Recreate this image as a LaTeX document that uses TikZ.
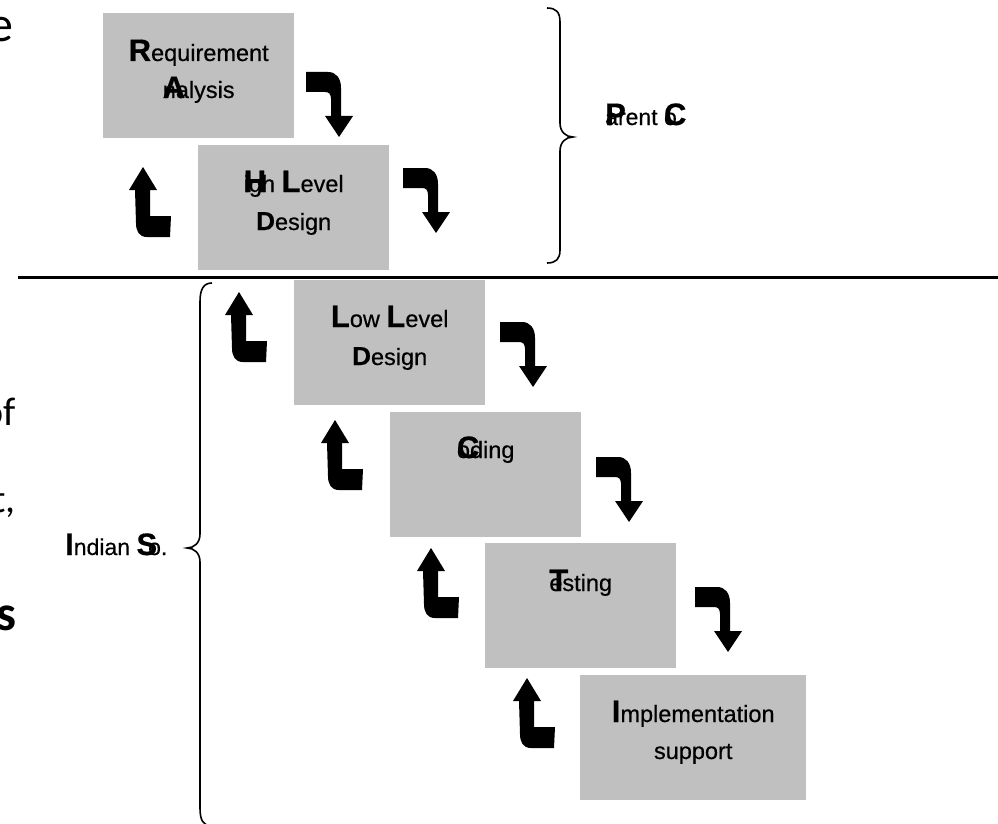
\documentclass[tikz,border=0pt]{standalone}
\usepackage{fontspec}
\setmainfont{Liberation Sans}
\newfontfamily\boxfont[FakeBold=0.5]{Liberation Sans}
\newfontfamily\bodyfont{Carlito}
\definecolor{stagegray}{RGB}{192,192,192}
% enlarged first letter, and one that overprints the letters after it
\newcommand\initial[1]{{\fontsize{31}{31}\selectfont\bfseries #1}}
\newcommand\ovl[1]{\rlap{\initial{#1}}}
\newcommand\capD{{\fontsize{26}{26}\selectfont\bfseries D}}
\begin{document}
\begin{tikzpicture}[x=1pt,y=-1pt,
  stage/.style={fill=stagegray, draw=none, anchor=north west, inner sep=0pt,
                minimum width=191pt, minimum height=125pt},
  caption/.style={anchor=base, inner sep=0pt, font=\boxfont\fontsize{23.5}{23.5}\selectfont},
  sidelabel/.style={anchor=base west, inner sep=0pt, font=\boxfont\fontsize{23}{23}\selectfont},
  fragment/.style={anchor=base east, inner sep=0pt, font=\bodyfont\fontsize{40}{40}\selectfont},
  turn/.style={fill=black, draw=none},
  brace/.style={draw=black, line width=1.6pt},
  turndown/.pic={\path[turn] (0,0) -- (22,0) .. controls (30,0) and (35,6) .. (35,16)
      -- (35,44) -- (47,44) -- (33,65) -- (19,44) -- (25,44) -- (25,27)
      .. controls (25,22) and (23,20) .. (19,20) -- (0,20) -- cycle;},
  turnup/.pic={\path[turn] (0,0) -- (14,23) -- (7,23) -- (7,49) -- (28,49) -- (27,70)
      -- (4,70) .. controls (-4,70) and (-7,64) .. (-7,56) -- (-8,23) -- (-14,23) -- cycle;},
  ]
\useasboundingbox (0,0) rectangle (998,824);

% cut-off words of the neighbouring text column
\node[fragment, font=\bodyfont\fontsize{50}{50}\selectfont] (fr-e) at (14,42) {e};
\node[fragment] (fr-of) at (16,425) {of};
\node[fragment] (fr-t) at (16,512) {t,};
\node[fragment, font=\bodyfont\bfseries\fontsize{50}{50}\selectfont] (fr-s) at (17,630) {s};

% divider between the two parties
\coordinate (div-l) at (18,277);
\coordinate (div-r) at (998,277);
\draw[line width=3pt] (div-l) -- (div-r);

% the six stages
\node[stage] (req) at (103,13) {};
\node[stage] (hld) at (198,145) {};
\node[stage] (lld) at (294,280) {};
\node[stage] (cod) at (390,412) {};
\node[stage] (tst) at (485,543) {};
\node[stage, minimum width=226pt] (imp) at (580,675) {};

\node[caption] (req-1) at ([yshift=-48pt]req.north) {\initial{R}equirement};
\node[caption] (req-2) at ([yshift=-85pt]req.north) {\ovl{A}nalysis};
\node[caption] (hld-1) at ([yshift=-47pt]hld.north) {\ovl{H}igh \initial{L}evel};
\node[caption] (hld-2) at ([yshift=-85pt]hld.north) {\capD esign};
\node[caption] (lld-1) at ([yshift=-47pt]lld.north) {\initial{L}ow \initial{L}evel};
\node[caption] (lld-2) at ([yshift=-85pt]lld.north) {\capD esign};
\node[caption] (cod-1) at ([yshift=-46pt]cod.north) {\ovl{C}oding};
\node[caption] (tst-1) at ([yshift=-48pt]tst.north) {\ovl{T}esting};
\node[caption] (imp-1) at ([yshift=-47pt]imp.north) {\initial{I}mplementation};
\node[caption] (imp-2) at ([yshift=-84pt]imp.north) {support};

% forward turns
\pic at (306,72) {turndown};
\pic at (403,168) {turndown};
\pic at (500,322) {turndown};
\pic at (596,457) {turndown};
\pic at (695,587) {turndown};

% backward turns
\pic at (143,167) {turnup};
\pic at (239,292) {turnup};
\pic at (335,420) {turnup};
\pic at (431,548) {turnup};
\pic at (527,678) {turnup};

% braces and the parties they group
\coordinate (rb-top) at (547,8);
\coordinate (rb-tip) at (573,137);
\coordinate (rb-bot) at (547,263);
\draw[brace] (rb-top) .. controls (556,8) and (560,12) .. (560,22) -- (560,123)
  .. controls (560,132) and (566,137) .. (rb-tip)
  .. controls (566,137) and (560,142) .. (560,151) -- (560,250)
  .. controls (560,259) and (556,263) .. (rb-bot);
\node[sidelabel] (parent) at (605,125) {\ovl{P}arent \ovl{C}o};

\coordinate (lb-top) at (212,283);
\coordinate (lb-tip) at (187,548);
\coordinate (lb-bot) at (212,826);
\draw[brace] (lb-top) .. controls (203,283) and (200,290) .. (200,302) -- (200,534)
  .. controls (200,543) and (194,548) .. (lb-tip)
  .. controls (194,548) and (200,553) .. (200,562) -- (200,808)
  .. controls (200,820) and (203,826) .. (lb-bot);
\node[sidelabel] (indian) at (65,555) {\initial{I}ndian \initial{S}\kern-9pt o.};
\end{tikzpicture}
\end{document}
